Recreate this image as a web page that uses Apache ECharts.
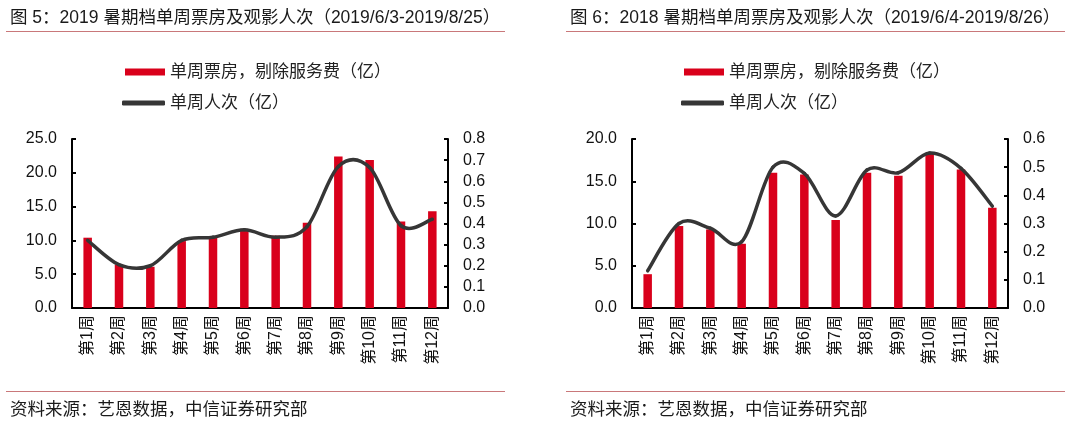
<!DOCTYPE html>
<html>
<head>
<meta charset="utf-8">
<script src="https://cdn.jsdelivr.net/npm/echarts@6/dist/echarts.min.js"></script>
<style>
html,body{margin:0;padding:0;background:#fff;}
#c{width:1080px;height:425px;}
</style>
</head>
<body>
<div id="c"></div>
<script>
var categories = ['第1周','第2周','第3周','第4周','第5周','第6周','第7周','第8周','第9周','第10周','第11周','第12周'];
var boxOffice2019 = [10.4, 6.4, 6.1, 9.9, 10.5, 11.7, 10.7, 12.6, 22.4, 21.9, 12.8, 14.3];
var admissions2019 = [0.32, 0.205, 0.20, 0.32, 0.335, 0.37, 0.335, 0.385, 0.67, 0.665, 0.39, 0.42];
var boxOffice2018 = [4.0, 9.7, 9.3, 7.6, 16.0, 15.8, 10.4, 16.0, 15.65, 18.3, 16.4, 11.85];
var admissions2018 = [0.132, 0.30, 0.283, 0.235, 0.50, 0.478, 0.327, 0.49, 0.48, 0.55, 0.496, 0.362];
var title1 = '图 5：2019 暑期档单周票房及观影人次（2019/6/3-2019/8/25）';
var title2 = '图 6：2018 暑期档单周票房及观影人次（2019/6/4-2019/8/26）';
var sourceText = '资料来源：艺恩数据，中信证券研究部';
var nameBar = '单周票房，剔除服务费（亿）';
var nameLine = '单周人次（亿）';

var FONT = '"Liberation Sans", Arial, "Noto Sans CJK SC", sans-serif';
var RED = '#d9001b';
var DARK = '#363636';
var RULE = '#c9787a';

var chart = echarts.init(document.getElementById('c'), null, {renderer: 'canvas'});

function valAxis(gridIndex, max, interval, pos) {
  return {
    type: 'value', gridIndex: gridIndex, min: 0, max: max, interval: interval, position: pos,
    axisLine: {show: true, lineStyle: {color: '#000', width: 2}},
    axisTick: {show: true, inside: true, length: 4, lineStyle: {color: '#000', width: 2}},
    splitLine: {show: false},
    axisLabel: {color: '#111', fontSize: 16, fontFamily: FONT, margin: 15,
      formatter: function (v) { return v.toFixed(1); }}
  };
}
function catAxis(gridIndex) {
  return {
    type: 'category', gridIndex: gridIndex, data: categories,
    axisLine: {show: true, lineStyle: {color: '#000', width: 2}},
    axisTick: {show: false},
    axisLabel: {interval: 0, rotate: 90, margin: 7, fontSize: 16, color: '#111', fontFamily: FONT}
  };
}
function legendBar(left) {
  return {
    orient: 'vertical', left: left, top: 63.5, padding: 0, itemWidth: 40, itemHeight: 7,
    textStyle: {fontSize: 17, color: '#222', fontFamily: FONT},
    data: [{name: nameBar, icon: 'rect'}]
  };
}
function legendLine(left) {
  return {
    orient: 'vertical', left: left, top: 94.5, padding: 0, itemWidth: 43, itemHeight: 5,
    textStyle: {fontSize: 17, color: '#222', fontFamily: FONT},
    data: [{name: nameLine, icon: 'roundRect'}]
  };
}
// Smooth curve through the data points (Catmull-Rom style), positioned by the axes via api.coord
function curveSeries(xi, yi, values) {
  return {
    type: 'custom', name: nameLine, xAxisIndex: xi, yAxisIndex: yi,
    data: values.map(function (v, i) { return [i, v]; }),
    encode: {x: 0, y: 1},
    itemStyle: {color: DARK},
    z: 5,
    renderItem: function (params, api) {
      var i = params.dataIndex, n = values.length;
      if (i >= n - 1) return null;
      var P = function (k) { k = Math.max(0, Math.min(n - 1, k)); return api.coord([k, values[k]]); };
      var p0 = P(i - 1), p1 = P(i), p2 = P(i + 1), p3 = P(i + 2);
      var t = 1 / 6;
      return {
        type: 'bezierCurve',
        shape: {
          x1: p1[0], y1: p1[1], x2: p2[0], y2: p2[1],
          cpx1: p1[0] + (p2[0] - p0[0]) * t, cpy1: p1[1] + (p2[1] - p0[1]) * t,
          cpx2: p2[0] - (p3[0] - p1[0]) * t, cpy2: p2[1] - (p3[1] - p1[1]) * t
        },
        style: {stroke: DARK, lineWidth: 3.5, fill: null, lineCap: 'round'}
      };
    }
  };
}

var option = {
  animation: false,
  backgroundColor: '#fff',
  legend: [legendBar(125), legendLine(122), legendBar(684), legendLine(681)],
  grid: [
    {left: 72, right: 632, top: 139, bottom: 117},
    {left: 632, right: 72, top: 139, bottom: 117}
  ],
  xAxis: [catAxis(0), catAxis(1)],
  yAxis: [
    valAxis(0, 25, 5, 'left'),
    valAxis(0, 0.8, 0.1, 'right'),
    valAxis(1, 20, 5, 'left'),
    valAxis(1, 0.6, 0.1, 'right')
  ],
  series: [
    {name: nameBar, type: 'bar', xAxisIndex: 0, yAxisIndex: 0, data: boxOffice2019, barWidth: 8.5,
      itemStyle: {color: RED}},
    curveSeries(0, 1, admissions2019),
    {name: nameBar, type: 'bar', xAxisIndex: 1, yAxisIndex: 2, data: boxOffice2018, barWidth: 8.5,
      itemStyle: {color: RED}},
    curveSeries(1, 3, admissions2018)
  ],
  graphic: [
    {type: 'text', left: 10, top: 9, style: {text: title1, fill: '#1a1a1a', font: '17.5px ' + FONT}},
    {type: 'text', left: 570, top: 9, style: {text: title2, fill: '#1a1a1a', font: '17.5px ' + FONT}},
    {type: 'line', shape: {x1: 6, y1: 31.5, x2: 505, y2: 31.5}, style: {stroke: RULE, lineWidth: 1.2}},
    {type: 'line', shape: {x1: 566, y1: 31.5, x2: 1065, y2: 31.5}, style: {stroke: RULE, lineWidth: 1.2}},
    {type: 'line', shape: {x1: 6, y1: 391.5, x2: 505, y2: 391.5}, style: {stroke: RULE, lineWidth: 1.2}},
    {type: 'line', shape: {x1: 566, y1: 391.5, x2: 1065, y2: 391.5}, style: {stroke: RULE, lineWidth: 1.2}},
    {type: 'text', left: 10, top: 400, style: {text: sourceText, fill: '#1a1a1a', font: '17.5px "Noto Sans CJK SC", sans-serif'}},
    {type: 'text', left: 570, top: 400, style: {text: sourceText, fill: '#1a1a1a', font: '17.5px "Noto Sans CJK SC", sans-serif'}}
  ]
};
chart.setOption(option);
</script>
</body>
</html>
